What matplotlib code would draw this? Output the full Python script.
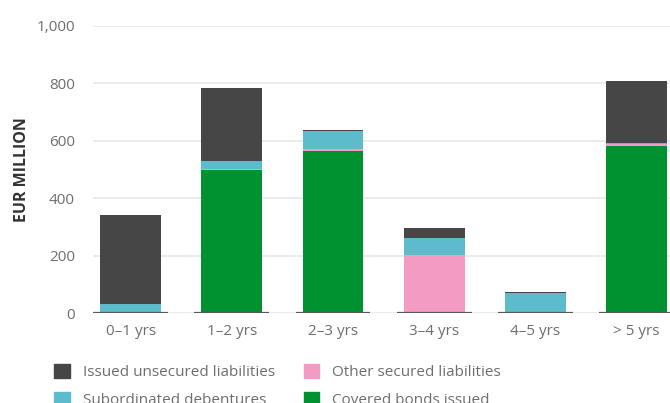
import matplotlib.pyplot as plt
from matplotlib.patches import Patch

# maturity buckets and amounts (EUR million)
buckets = ["0\u20131 yrs", "1\u20132 yrs", "2\u20133 yrs", "3\u20134 yrs", "4\u20135 yrs", "> 5 yrs"]
covered = [0, 499, 565, 0, 0, 583]
other_secured = [4, 2, 5, 202, 4, 4]
subordinated = [27, 29, 65, 60, 66, 6]
unsecured = [311, 252, 3, 35, 3, 213]

c_unsec = "#464646"
c_sub = "#5cbccb"
c_other = "#f39bc3"
c_cov = "#009230"

plt.rcParams["font.family"] = ["Open Sans", "DejaVu Sans"]

fig = plt.figure(figsize=(6.7, 4.03), dpi=100)
ax = fig.add_axes([0.139, 0.2233, 0.861, 0.7129])

x = list(range(len(buckets)))
w = 0.6
bottom = [0] * len(x)
for vals, col in [(covered, c_cov), (other_secured, c_other), (subordinated, c_sub), (unsecured, c_unsec)]:
    ax.bar(x, vals, w, bottom=bottom, color=col, zorder=3)
    bottom = [b + v for b, v in zip(bottom, vals)]

# short baseline under each category
for i in x:
    ax.hlines(0, i - 0.37, i + 0.37, color="#5a5a5a", lw=1.6, zorder=4)

ax.set_xlim(-0.37, 5.33)
ax.set_ylim(0, 1000)
ax.set_yticks([0, 200, 400, 600, 800, 1000])
ax.set_yticklabels(["0", "200", "400", "600", "800", "1,000"])
ax.yaxis.grid(True, color="#e8e8e8", lw=1.2, zorder=0)
ax.set_axisbelow(True)
for s in ax.spines.values():
    s.set_visible(False)
ax.tick_params(axis="both", length=0, labelsize=11, labelcolor="#6e6e6e")
ax.tick_params(axis="y", pad=13)
ax.tick_params(axis="x", pad=8)
ax.set_xticks(x)
ax.set_xticklabels(buckets)

ax.set_ylabel("EUR MILLION", fontsize=11.5, fontweight="bold", color="#333333")
ax.yaxis.set_label_coords(-0.11, 0.5)

handles = [Patch(color=c_unsec), Patch(color=c_sub), Patch(color=c_other), Patch(color=c_cov)]
labels = ["Issued unsecured liabilities", "Subordinated debentures",
          "Other secured liabilities", "Covered bonds issued"]
leg = fig.legend(handles, labels, ncol=2, loc="upper left", bbox_to_anchor=(0.072, 0.111),
                 frameon=False, fontsize=11, handlelength=1.0, handleheight=1.0,
                 handletextpad=0.85, columnspacing=1.9, labelspacing=0.75, borderaxespad=0)
for t in leg.get_texts():
    t.set_color("#6e6e6e")

fig.savefig("out.png", dpi=100)
